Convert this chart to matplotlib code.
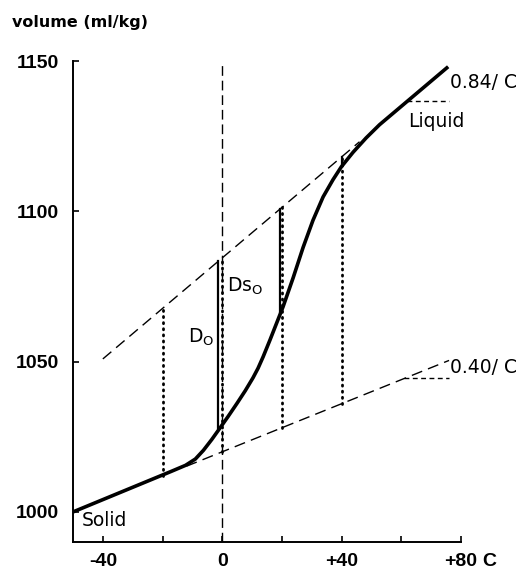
import numpy as np
import matplotlib.pyplot as plt

# volume of a fat/oil through melting: solid line, liquid line and the measured curve
solid_slope = 0.40      # ml/kg per C
solid_v0 = 1020.0       # solid line value at 0 C
liquid_slope = 0.84
liquid_v0 = 1084.5

curve_t = [-50, -17.3, -12.3, -9, -6.3, -3.5, -0.7, 2, 5, 7.7, 10.3, 12, 13.7, 16, 20.4, 23.8,
           27.1, 30.4, 33.8, 37.1, 39.9, 43.8, 48.2, 52.7, 75.7]
curve_v = [1000, 1013.4, 1015.5, 1017.6, 1020.5, 1024.1, 1028, 1031.8, 1036.2, 1040.3, 1044.6,
           1047.8, 1051.6, 1057.2, 1068.3, 1078, 1088, 1097, 1104.8, 1110.5, 1114.8, 1119.6,
           1124.4, 1128.8, 1148.1]

# temperatures with dotted verticals between the two extrapolated lines
dotted_t = [-20, 0, 20, 40]
# solid verticals: liquid line down to the curve
solid_t = [-1.3, 19.3, 40.0]
solid_bottom = [1028, 1066.5, 1115]

xticks = [-40, -20, 0, 20, 40, 60, 80]
xticklabels = ['-40', '', '0', '', '+40', '', '+80']
yticks = [1000, 1050, 1100, 1150]

tick_font = dict(family='Liberation Sans', weight='bold', size=14)

fig = plt.figure(figsize=(5.22, 5.71), dpi=100)
ax = fig.add_axes([73 / 522, 1 - 542 / 571, (461 - 73) / 522, (542 - 61) / 571])

liq = lambda t: liquid_v0 + liquid_slope * np.asarray(t, dtype=float)
sol = lambda t: solid_v0 + solid_slope * np.asarray(t, dtype=float)

dash = (0, (8, 4.5))
# extrapolated lines
t_l = np.array([-40, 46])
ax.plot(t_l, liq(t_l), color='black', lw=1.0, linestyle=dash)
t_s = np.array([-12, 76])
ax.plot(t_s, sol(t_s), color='black', lw=1.0, linestyle=dash)

# slope triangles
ax.plot([62, 76], [liq(62), liq(62)], color='black', lw=1.0, linestyle=(0, (3.5, 2.5)))
ax.plot([61, 76], [sol(61), sol(61)], color='black', lw=1.0, linestyle=(0, (3.5, 2.5)))

# vertical dashed line at 0 C
ax.plot([0, 0], [990, 1150], color='black', lw=1.0, linestyle=(0, (7, 3.5)))

# dotted verticals
for t in dotted_t:
    ax.plot([t, t], [sol(t), liq(t)], color='black', lw=2.0, linestyle=(0, (0.4, 1.8)),
            dash_capstyle='round')

# solid verticals
for t, b in zip(solid_t, solid_bottom):
    ax.plot([t, t], [b, liq(t)], color='black', lw=1.6)

# measured curve
ax.plot(curve_t, curve_v, color='black', lw=2.6, solid_capstyle='butt', solid_joinstyle='round')

ax.set_xlim(-50, 80)
ax.set_ylim(990, 1150)
for s in ['top', 'right']:
    ax.spines[s].set_visible(False)
for s in ['left', 'bottom']:
    ax.spines[s].set_linewidth(1.4)

ax.set_xticks(xticks)
ax.set_xticklabels(xticklabels, fontdict=tick_font)
ax.set_yticks(yticks)
ax.set_yticklabels([str(v) for v in yticks], fontdict=tick_font)
ax.tick_params(direction='in', length=4, width=1.2, pad=8)
ax.tick_params(axis='y', pad=10)

# unit after the last x tick label
ax.annotate('C', xy=(87.0, 1 - 562 / 571), xycoords=('data', 'figure fraction'),
            ha='left', va='center', annotation_clip=False, **tick_font)

fig.text(12 / 522, 1 - 22 / 571, 'volume (ml/kg)', ha='left', va='center',
         fontsize=11.5, weight='bold', family='DejaVu Sans')

lab = dict(fontsize=13.5, family='DejaVu Sans', color='black')
ax.text(76.3, 1143, '0.84/ C', ha='left', va='center', **lab)
ax.text(76.3, 1048, '0.40/ C', ha='left', va='center', **lab)
ax.text(62.3, 1130, 'Liquid', ha='left', va='center', **lab)
ax.text(-47, 997, 'Solid', ha='left', va='center', **lab)
ax.text(-11.5, 1058, r'D$_\mathregular{O}$', ha='left', va='center', **lab)
ax.text(1.5, 1075, r'Ds$_\mathregular{O}$', ha='left', va='center', **lab)

fig.savefig('out.png', dpi=100)
